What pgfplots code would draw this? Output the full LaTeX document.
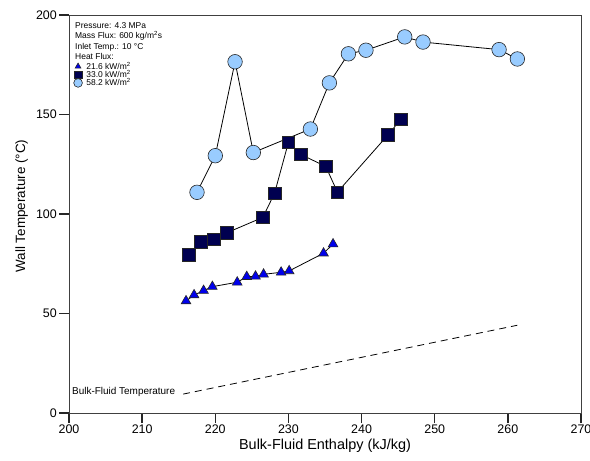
\documentclass[border=0pt]{standalone}
\usepackage{fontspec}
\setmainfont{Liberation Sans}
\usepackage{pgfplots}
\pgfplotsset{compat=1.18}
\definecolor{tri}{RGB}{0,0,235}
\definecolor{sqc}{RGB}{0,0,80}
\definecolor{circ}{RGB}{153,204,255}
\begin{document}
\begin{tikzpicture}
\begin{axis}[
  name=ax,
  scale only axis, width=512bp, height=398bp,
  xmin=200, xmax=270, ymin=0, ymax=200,
  xtick={200,210,...,270}, ytick={0,50,...,200},
  tick align=outside, tick pos=left,
  major tick length=10bp,
  tick style={line width=1.3pt, black!85},
  axis line style={line width=1pt, black!75},
  ticklabel style={font=\fontsize{12.5}{14}\selectfont},
  xticklabel style={inner sep=2pt},
  yticklabel style={inner sep=2pt},
  /pgf/number format/assume math mode=true,
  xlabel={Bulk-Fluid Enthalpy (kJ/kg)},
  ylabel={Wall Temperature (°C)},
  xlabel style={font=\fontsize{14.5}{16}\selectfont, at={(axis description cs:0.5,0)}, anchor=center, yshift=-33bp},
  ylabel style={font=\fontsize{13.5}{15}\selectfont, at={(axis description cs:-0.0924,0.52)}, anchor=center},
  legend style={at={(axis description cs:0,1)}, anchor=north west, xshift=4.5bp, yshift=-46bp,
    draw=none, fill=none, inner sep=0pt, row sep=-2.2pt,
    font=\fontsize{8.5}{9}\selectfont,
    nodes={inner sep=1pt},
    /tikz/every odd column/.append style={column sep=3pt}},
  legend cell align=left,
  legend image code/.code={\draw[#1, every mark/.append style={scale=0.6}] plot coordinates {(0pt,0pt)};},
]
% Bulk-fluid temperature
\addplot[black, line width=0.8pt, dash pattern=on 7pt off 5pt, forget plot] coordinates {(215.6,9.5) (261.3,44.1)};
% 58.2 kW/m2
\addplot[black, line width=0.8pt, mark=*, mark size=7.3pt, mark options={fill=circ, draw=black!85, line width=0.6pt, solid}, forget plot] coordinates {
(217.5,110.9)(220.0,129.3)(222.7,176.5)(225.2,130.9)(233.0,142.7)(235.6,165.9)(238.2,180.5)(240.6,182.3)(245.9,189.0)(248.4,186.4)(258.8,182.6)(261.3,177.9)};
% 33.0 kW/m2
\addplot[black, line width=0.8pt, mark=square*, mark size=6.3pt, mark options={fill=sqc, draw=black!85, line width=0.6pt, solid}, forget plot] coordinates {
(216.4,79.4)(218.0,85.9)(219.8,87.4)(221.6,90.6)(226.5,98.3)(228.1,110.4)(230.0,136.0)(231.7,129.9)(235.1,123.9)(236.7,111.0)(243.6,139.7)(245.4,147.7)};
% 21.6 kW/m2
\addplot[black, line width=0.8pt, mark=triangle*, mark size=5.6pt, mark options={fill=tri, draw=black!85, line width=0.6pt, solid}, forget plot] coordinates {
(216.0,56.3)(217.1,59.3)(218.4,61.5)(219.6,63.5)(223.0,65.7)(224.3,68.5)(225.5,68.7)(226.6,69.7)(229.0,70.7)(230.1,71.4)(234.8,80.3)(236.1,84.9)};
\addlegendimage{mark=triangle*, mark size=5.6pt, mark options={fill=tri, draw=black!85, line width=0.6pt}}
\addlegendentry{21.6 kW/m\textsuperscript{2}}
\addlegendimage{mark=square*, mark size=6.3pt, mark options={fill=sqc, draw=black!85, line width=0.6pt}}
\addlegendentry{33.0 kW/m\textsuperscript{2}}
\addlegendimage{mark=*, mark size=7.3pt, mark options={fill=circ, draw=black!85, line width=0.6pt}}
\addlegendentry{58.2 kW/m\textsuperscript{2}}
\node[anchor=north west, inner sep=0pt, align=left, font=\fontsize{8.5}{10.5}\selectfont] at (axis description cs:0.0117,0.9824) {Pressure: 4.3 MPa\\Mass Flux: 600 kg/m\textsuperscript{2}s\\Inlet Temp.: 10 °C\\Heat Flux:};
\node[anchor=west, inner sep=0pt, font=\fontsize{10}{12}\selectfont] at (axis cs:200.4,10.7) {Bulk-Fluid Temperature};
\end{axis}
\pgfresetboundingbox
\path[use as bounding box] ([xshift=-69bp,yshift=-47bp]ax.south west) rectangle ([xshift=9bp,yshift=15bp]ax.north east);
\end{tikzpicture}
\end{document}
